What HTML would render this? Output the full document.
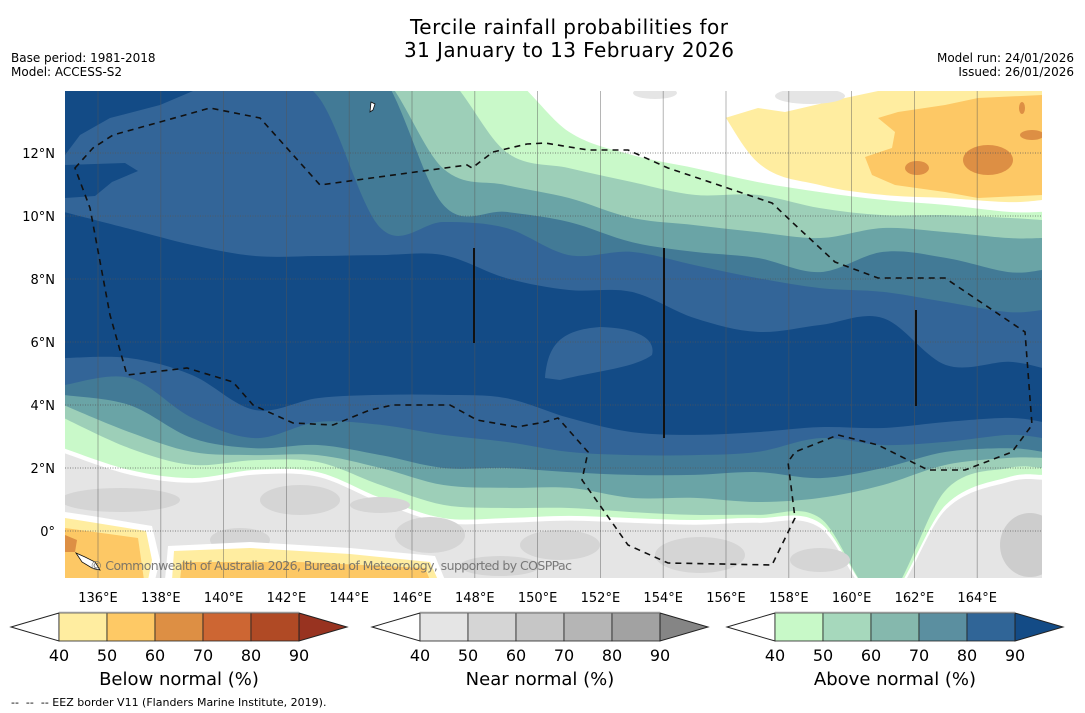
<!DOCTYPE html>
<html><head><meta charset="utf-8"><style>
html,body{margin:0;padding:0;background:#fff;width:1085px;height:713px;overflow:hidden}
svg{display:block;font-family:"DejaVu Sans","Liberation Sans",sans-serif}
</style></head><body>
<svg id="fig" width="1085" height="713" viewBox="0 0 1085 713" xmlns="http://www.w3.org/2000/svg">
<text x="569" y="34" text-anchor="middle" font-size="20" textLength="318">Tercile rainfall probabilities for</text>
<text x="569" y="57" text-anchor="middle" font-size="20" textLength="330">31 January to 13 February 2026</text>
<text x="11" y="62" font-size="12">Base period: 1981-2018</text>
<text x="11" y="76" font-size="12">Model: ACCESS-S2</text>
<text x="1074" y="62" font-size="12" text-anchor="end">Model run: 24/01/2026</text>
<text x="1074" y="76" font-size="12" text-anchor="end">Issued: 26/01/2026</text>
<defs><clipPath id="pc"><rect x="65" y="91" width="977" height="487"/></clipPath></defs>
<g id="map" clip-path="url(#pc)"></g>
<g id="axes"></g>
<g id="cbars"></g>
<text x="11" y="706" font-size="11" xml:space="preserve">--  --  -- EEZ border V11 (Flanders Marine Institute, 2019).</text>
</svg>
<script>
// ---- data ----
const lons = [134.9,137,139,141,143,145,147,149,151,153,155,157,159,161,163,165,166.1];
// northern boundaries (lat): region north of each boundary gets the colour
const nMid   = [10.13,9.59,9.08,8.73,8.73,8.76,8.76,8.03,7.65,7.59,6.76,6.32,6.54,6.76,5.27,5.37,5.17];
const nTeal  = [14.5,14.5,14.5,14.5,13.8,9.62,9.81,9.62,8.76,8.86,8.44,8.03,7.71,7.59,7.27,6.95,7.02];
const nGt    = [14.5,14.5,14.5,14.5,14.5,14.5,10.35,10.13,9.81,9.17,8.86,8.67,8.22,8.86,8.67,8.22,8.29];
const nGreen = [14.5,14.5,14.5,14.5,14.5,14.5,11.5,10.98,10.57,9.94,9.71,9.49,9.3,9.62,9.49,9.3,9.3];
const nLg    = [14.5,14.5,14.5,14.5,14.5,14.5,14.5,12.03,11.52,11.08,10.67,10.67,10.25,10.03,10.03,9.94,9.87];
const nWhite = [14.5,14.5,14.5,14.5,14.5,14.5,14.5,14.5,12.67,11.94,11.52,11.08,10.76,10.51,10.35,10.13,10.13];
const nYellow= [15,15,15,15,15,15,15,15,15,15,14.5,11.71,10.98,10.67,10.57,10.44,10.51];
// southern boundaries (lat): region south of each boundary gets the colour
const sMid   = [5.49,5.49,4.95,3.84,4.22,4.32,4.32,4.22,3.59,3.14,3.05,3.14,3.30,3.27,3.46,3.59,3.46];
const sTeal  = [4.63,4.86,3.59,2.95,3.46,3.37,3.05,2.83,2.51,2.41,2.41,2.51,2.95,2.73,2.83,3.05,2.95];
const sGt    = [4.32,4.0,2.95,2.63,2.73,2.41,2.0,2.0,1.87,1.78,1.78,1.87,1.68,2.0,2.51,2.63,2.51];
const sGreen = [4.0,3.14,2.51,2.41,2.41,2.0,1.46,1.37,1.37,1.05,1.05,0.92,1.05,1.46,2.10,2.32,2.32];
const sLg    = [3.59,2.63,2.10,2.25,2.19,1.46,0.83,0.73,0.73,0.60,0.51,0.51,0.41,-2.2,1.30,2.0,2.0];
const sWhite = [2.63,1.94,1.68,1.94,1.87,1.05,0.41,0.41,0.48,0.41,0.35,0.41,0.25,-2.2,0.83,1.71,1.78];
const xTicks = [136,138,140,142,144,146,148,150,152,154,156,158,160,162,164];
const yTicks = [0,2,4,6,8,10,12];
const cbTicks = [40,50,60,70,80,90];

const C = {dark:'#134b86',mid:'#336598',teal:'#427a96',gt:'#6aa4a6',green:'#9dcfb8',lg:'#c9f9c9',white:'#ffffff',gray:'#e5e5e5',gray2:'#d5d5d5',yel:'#ffeda0',org:'#fdc865',dorg:'#dd8f44'};
const X = lon => 66.6 + (lon-135)*31.4;
const Y = lat => 531 - lat*31.5;
const NS='http://www.w3.org/2000/svg';
function mk(tag, attrs, parent){const e=document.createElementNS(NS,tag);for(const k in attrs)e.setAttribute(k,attrs[k]);parent.appendChild(e);return e;}
function curve(lats){
  const p=lons.map((l,i)=>[X(l),Y(lats[i])]);
  let d='L'+p[0][0].toFixed(1)+','+p[0][1].toFixed(1);
  for(let i=0;i<p.length-1;i++){
    const p0=p[Math.max(0,i-1)],p1=p[i],p2=p[i+1],p3=p[Math.min(p.length-1,i+2)];
    const c1=[p1[0]+(p2[0]-p0[0])/6,p1[1]+(p2[1]-p0[1])/6];
    const c2=[p2[0]-(p3[0]-p1[0])/6,p2[1]-(p3[1]-p1[1])/6];
    d+=' C'+c1.map(v=>v.toFixed(1))+' '+c2.map(v=>v.toFixed(1))+' '+p2.map(v=>v.toFixed(1));
  }
  return d;
}
const map=document.getElementById('map');
let r=mk('rect',{x:60,y:85,width:990,height:500,fill:C.dark},map);


function north(lats,fill,name){
  const x0=X(lons[0]),x1=X(lons[lons.length-1]);
  const e=mk('path',{d:'M'+x0+',60 '+curve(lats)+' L'+x1+',60 Z',fill:fill},map);
  
  
}
function south(lats,fill,name){
  const x0=X(lons[0]),x1=X(lons[lons.length-1]);
  const e=mk('path',{d:'M'+x0+',640 '+curve(lats)+' L'+x1+',640 Z',fill:fill},map);
  
  
}
north(nMid,C.mid,'north-above-80');
north(nTeal,C.teal,'north-above-70');
north(nGt,C.gt,'north-above-60');
north(nGreen,C.green,'north-above-50');
north(nLg,C.lg,'north-above-40');
north(nWhite,C.white,'north-neutral');
north(nYellow,C.yel,'north-below-40');
south(sMid,C.mid,'south-above-80');
south(sTeal,C.teal,'south-above-70');
south(sGt,C.gt,'south-above-60');
south(sGreen,C.green,'south-above-50');
south(sLg,C.lg,'south-above-40');
south(sWhite,C.white,'south-neutral');
south(sWhite.map(v=>v-0.15),C.gray,'south-near-normal-40');
function blob(d,fill,name){const e=mk('path',{d:d,fill:fill},map);}
function ell(cx,cy,rx,ry,fill,name){const e=mk('ellipse',{cx:cx,cy:cy,rx:rx,ry:ry,fill:fill},map);}
blob('M65,91 L193,91 L160,105 L110,118 L80,135 L65,155 Z',C.dark,'dark-patch-nw');
blob('M65,165 L125,163 L138,171 L112,182 L95,196 L65,198 Z',C.dark,'dark-finger-w');
blob('M545,378 C548,345 560,330 600,327 C640,328 656,340 652,355 C635,368 590,372 560,380 Z',C.mid,'mid-blob-centre');
blob('M690,91 L690,130 L702,125 L758,108 L785,112 L845,98 L878,91 Z',C.white,'white-patch-north');
ell(810,96,35,8,C.gray,'gray-patch-north-1');
ell(655,93,22,6,C.gray,'gray-patch-north-2');
blob('M878,118 L895,132 L892,148 L865,157 L872,175 L895,185 L945,192 L978,198 L1042,195 L1042,95 L978,98 L945,105 L898,112 Z',C.org,'orange-patch-ne');
ell(988,160,25,15,C.dorg,'dark-orange-1');
ell(917,168,12,7,C.dorg,'dark-orange-2');
ell(1032,135,12,5,C.dorg,'dark-orange-3');
ell(1022,108,3,6,C.dorg,'dark-orange-4');
[[120,500,60,12],[300,500,40,15],[240,540,30,12],[430,535,35,18],[560,545,40,15],[700,555,45,18],[820,560,30,12],[500,566,40,10],[380,505,30,8]].forEach(b=>ell(b[0],b[1],b[2],b[3],C.gray2,'gray-patch-south'));
ell(1030,545,30,32,'#cdcdcd','gray-patch-se');
blob('M65,512 L92,516 L152,526 L160,560 L155,580 L65,580 Z',C.white,'white-border-sw');
blob('M65,518 L90,522 L146,531 L152,560 L148,580 L65,580 Z',C.yel,'yellow-patch-sw');
blob('M65,528 L138,538 L144,580 L65,580 Z',C.org,'orange-patch-sw');
blob('M65,535 L77,540 L75,552 L65,552 Z',C.dorg,'dark-orange-sw');
blob('M165,580 L168,546 L250,542 L350,548 L435,556 L445,580 Z',C.white,'white-border-s');
blob('M172,580 L174,551 L250,548 L350,554 L430,562 L438,580 Z',C.yel,'yellow-patch-s');
blob('M180,580 L182,562 L300,562 L425,568 L430,580 Z',C.org,'orange-patch-s');
// gridlines
xTicks.forEach(l=>{const e=mk('line',{x1:X(l),x2:X(l),y1:91,y2:578,stroke:'#555','stroke-width':0.8,'stroke-opacity':0.55},map);

});
yTicks.forEach(l=>{const e=mk('line',{x1:65,x2:1042,y1:Y(l),y2:Y(l),stroke:'#555','stroke-width':0.9,'stroke-dasharray':'1,1.5','stroke-opacity':0.7},map);

});
// solid vertical lines
[[474,248,343],[664,248,438],[916,310,406]].forEach(v=>{const e=mk('line',{x1:v[0],x2:v[0],y1:v[1],y2:v[2],stroke:'#111','stroke-width':2},map);

});
// EEZ
const eez=mk('path',{d:'M75,168 L93,148 L113,135 L160,122 L210,108 L260,118 L320,185 L467,165 L472,168 L493,152 L527,144 L545,143 L588,150 L628,150 L668,168 L772,203 L792,222 L835,262 L878,278 L945,278 L1025,332 L1032,425 L1012,452 L965,470 L928,470 L878,445 L838,435 L795,452 L788,462 L795,518 L772,565 L668,563 L628,545 L582,480 L588,452 L558,418 L545,422 L517,427 L477,420 L450,405 L393,405 L370,410 L333,425 L293,423 L253,405 L233,382 L187,368 L127,375 L110,315 L90,208 Z',fill:'none',stroke:'#111','stroke-width':1.6,'stroke-dasharray':'6,5'},map);


const isl=mk('path',{d:'M76,553 L85,557 L95,562 L100,570 L92,568 L82,562 Z M371,102 L375,104 L373,110 L370,112 Z',fill:'#fff',stroke:'#111','stroke-width':0.8},map);


const cp=mk('text',{x:90,y:570,'font-size':12.5,fill:'#666','fill-opacity':0.85,textLength:482},map);
cp.textContent='© Commonwealth of Australia 2026, Bureau of Meteorology, supported by COSPPac';


// axes labels
const axes=document.getElementById('axes');
xTicks.forEach(l=>{const t=mk('text',{x:X(l),y:602,'text-anchor':'middle','font-size':13},axes);t.textContent=l+'°E';

});
yTicks.forEach(l=>{const t=mk('text',{x:55,y:Y(l)+5,'text-anchor':'end','font-size':13},axes);t.textContent=l===0?'0°':l+'°N';

});
// colorbars
const cb=document.getElementById('cbars');
const bars=[
 {x0:59,title:'Below normal (%)',low:'#ffffff',cols:['#ffeda0','#fec965','#dd8f44','#cd6633','#b04a25'],high:'#983320',name:'below-normal-colorbar'},
 {x0:420,title:'Near normal (%)',low:'#ffffff',cols:['#e5e5e5','#d5d5d5','#c6c6c6','#b5b5b5','#a2a2a2'],high:'#858585',name:'near-normal-colorbar'},
 {x0:775,title:'Above normal (%)',low:'#ffffff',cols:['#c8f9c8','#a6d8bc','#85b8ad','#5b8fa0','#306597'],high:'#134b86',name:'above-normal-colorbar'}];
bars.forEach(b=>{
  const g=mk('g',{},cb);
  
  
  const w=48,y0=613,y1=641,ym=627,x1=b.x0+5*w;
  mk('path',{d:`M${b.x0},${y0} L${b.x0-48},${ym} L${b.x0},${y1} Z`,fill:b.low,stroke:'#222','stroke-width':1},g);
  b.cols.forEach((c,i)=>mk('rect',{x:b.x0+i*w,y:y0,width:w,height:y1-y0,fill:c,stroke:'#222','stroke-width':0.8},g));
  mk('path',{d:`M${x1},${y0} L${x1+48},${ym} L${x1},${y1} Z`,fill:b.high,stroke:'#222','stroke-width':1},g);
  mk('line',{x1:b.x0,x2:x1,y1:y0-0.5,y2:y0-0.5,stroke:'#999','stroke-width':1.5},g);
  cbTicks.forEach((v,i)=>{const t=mk('text',{x:b.x0+i*w,y:661,'text-anchor':'middle','font-size':16},g);t.textContent=v;
  
  });
  const t=mk('text',{x:b.x0+2.5*w,y:685,'text-anchor':'middle','font-size':18},g);t.textContent=b.title;
  
  
});
</script>
</body></html>
